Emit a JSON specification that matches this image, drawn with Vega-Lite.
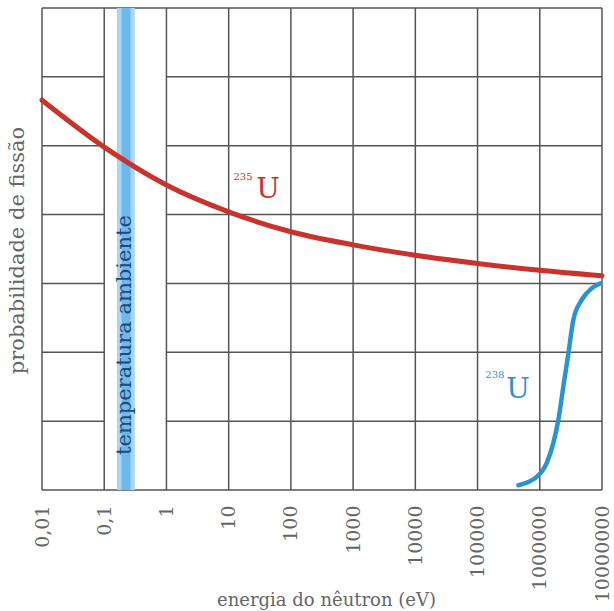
{
  "$schema": "https://vega.github.io/schema/vega-lite/v6.json",
  "width": 560,
  "height": 482,
  "autosize": {"type": "none"},
  "padding": {"left": 42, "top": 8, "right": 12, "bottom": 121},
  "background": "white",
  "config": {"view": {"stroke": null}},
  "datasets": {
    "vgrid": [
      {"energy": 0.01, "low": 0, "high": 7}, {"energy": 0.1, "low": 0, "high": 7},
      {"energy": 1, "low": 0, "high": 7}, {"energy": 10, "low": 0, "high": 7},
      {"energy": 100, "low": 0, "high": 7}, {"energy": 1000, "low": 0, "high": 7},
      {"energy": 10000, "low": 0, "high": 7}, {"energy": 100000, "low": 0, "high": 7},
      {"energy": 1000000, "low": 0, "high": 7}, {"energy": 10000000, "low": 0, "high": 7}
    ],
    "hgrid": [
      {"level": 0, "from": 0.01, "to": 10000000},
      {"level": 7, "from": 0.01, "to": 10000000},
      {"level": 1, "from": 0.01, "to": 0.1}, {"level": 1, "from": 1, "to": 10000000},
      {"level": 2, "from": 0.01, "to": 0.1}, {"level": 2, "from": 1, "to": 10000000},
      {"level": 3, "from": 0.01, "to": 0.1}, {"level": 3, "from": 1, "to": 10000000},
      {"level": 4, "from": 0.01, "to": 0.1}, {"level": 4, "from": 1, "to": 10000000},
      {"level": 5, "from": 0.01, "to": 0.1}, {"level": 5, "from": 1, "to": 10000000},
      {"level": 6, "from": 0.01, "to": 0.1}, {"level": 6, "from": 1, "to": 10000000}
    ],
    "band": [
      {"part": "outer", "from": 0.16, "to": 0.31, "low": 0, "high": 7},
      {"part": "inner", "from": 0.19, "to": 0.265, "low": 0, "high": 7}
    ],
    "u235": [
      {"energy": 0.01, "prob": 5.66},
      {"energy": 0.1, "prob": 4.98},
      {"energy": 1, "prob": 4.43},
      {"energy": 10, "prob": 4.04},
      {"energy": 100, "prob": 3.75},
      {"energy": 1000, "prob": 3.56},
      {"energy": 10000, "prob": 3.41},
      {"energy": 100000, "prob": 3.29},
      {"energy": 1000000, "prob": 3.19},
      {"energy": 10000000, "prob": 3.11}
    ],
    "u238": [
      {"energy": 452000, "prob": 0.07},
      {"energy": 893000, "prob": 0.19},
      {"energy": 1290000, "prob": 0.39},
      {"energy": 1650000, "prob": 0.68},
      {"energy": 1990000, "prob": 1.02},
      {"energy": 2390000, "prob": 1.50},
      {"energy": 2880000, "prob": 1.98},
      {"energy": 3460000, "prob": 2.47},
      {"energy": 4720000, "prob": 2.76},
      {"energy": 6840000, "prob": 2.93},
      {"energy": 9290000, "prob": 3.00}
    ],
    "labels": [
      {"kind": "iso235", "text": "235", "energy": 17, "prob": 4.54},
      {"kind": "u235", "text": "U", "energy": 43, "prob": 4.36},
      {"kind": "iso238", "text": "238", "energy": 190000, "prob": 1.67},
      {"kind": "u238", "text": "U", "energy": 447000, "prob": 1.45},
      {"kind": "room", "text": "temperatura ambiente", "energy": 0.219, "prob": 2.25}
    ]
  },
  "encoding": {
    "x": {
      "field": "energy",
      "type": "quantitative",
      "scale": {"type": "log", "domain": [0.01, 10000000], "nice": false},
      "axis": {
        "values": [0.01, 0.1, 1, 10, 100, 1000, 10000, 100000, 1000000, 10000000],
        "labelExpr": "datum.value == 0.01 ? '0,01' : datum.value == 0.1 ? '0,1' : format(datum.value, 'd')",
        "labelAngle": 270,
        "labelAlign": "right",
        "labelBaseline": "middle",
        "labelPadding": 15,
        "labelFont": "DejaVu Serif",
        "labelFontSize": 19,
        "labelColor": "#666666",
        "labelOverlap": false,
        "labelFlush": false,
        "ticks": false,
        "domain": false,
        "grid": false,
        "title": "energia do nêutron (eV)",
        "titleFont": "DejaVu Serif",
        "titleFontSize": 18,
        "titleFontWeight": "normal",
        "titleColor": "#666666",
        "titleX": 284,
        "titleY": 110,
        "titleBaseline": "middle",
        "titleAlign": "center"
      }
    },
    "y": {
      "field": "prob",
      "type": "quantitative",
      "scale": {"domain": [0, 7], "nice": false, "zero": false},
      "axis": {
        "labels": false,
        "ticks": false,
        "domain": false,
        "grid": false,
        "title": "probabilidade de fissão",
        "titleFont": "DejaVu Serif",
        "titleFontSize": 21,
        "titleFontWeight": "normal",
        "titleColor": "#666666",
        "titleAngle": 270,
        "titleX": -25,
        "titleY": 242,
        "titleAlign": "center",
        "titleBaseline": "middle"
      }
    }
  },
  "layer": [
    {
      "data": {"name": "vgrid"},
      "mark": {"type": "rule", "color": "#555555", "strokeWidth": 1.5},
      "encoding": {
        "y": {"field": "low", "type": "quantitative"},
        "y2": {"field": "high"}
      }
    },
    {
      "data": {"name": "hgrid"},
      "mark": {"type": "rule", "color": "#555555", "strokeWidth": 1.5},
      "encoding": {
        "x": {"field": "from", "type": "quantitative"},
        "x2": {"field": "to"},
        "y": {"field": "level", "type": "quantitative"}
      }
    },
    {
      "data": {"name": "band"},
      "transform": [{"filter": "datum.part == 'outer'"}],
      "mark": {"type": "rect", "color": "#a9d6f4"},
      "encoding": {
        "x": {"field": "from", "type": "quantitative"},
        "x2": {"field": "to"},
        "y": {"field": "low", "type": "quantitative"},
        "y2": {"field": "high"}
      }
    },
    {
      "data": {"name": "band"},
      "transform": [{"filter": "datum.part == 'inner'"}],
      "mark": {"type": "rect", "color": "#6eb8ea"},
      "encoding": {
        "x": {"field": "from", "type": "quantitative"},
        "x2": {"field": "to"},
        "y": {"field": "low", "type": "quantitative"},
        "y2": {"field": "high"}
      }
    },
    {
      "data": {"name": "u235"},
      "mark": {"type": "line", "color": "#c8342c", "strokeWidth": 5, "interpolate": "monotone", "strokeCap": "round"},
      "encoding": {}
    },
    {
      "data": {"name": "u238"},
      "mark": {"type": "line", "color": "#2a93d1", "strokeWidth": 4.5, "interpolate": "monotone", "strokeCap": "round"},
      "encoding": {}
    },
    {
      "data": {"name": "labels"},
      "transform": [{"filter": "datum.kind == 'iso235'"}],
      "mark": {"type": "text", "color": "#c8342c", "font": "DejaVu Serif", "fontSize": 10, "align": "center", "baseline": "middle"},
      "encoding": {"text": {"field": "text"}}
    },
    {
      "data": {"name": "labels"},
      "transform": [{"filter": "datum.kind == 'u235'"}],
      "mark": {"type": "text", "color": "#c8342c", "font": "DejaVu Serif", "fontSize": 28, "align": "center", "baseline": "middle"},
      "encoding": {"text": {"field": "text"}}
    },
    {
      "data": {"name": "labels"},
      "transform": [{"filter": "datum.kind == 'iso238'"}],
      "mark": {"type": "text", "color": "#2a93d1", "font": "DejaVu Serif", "fontSize": 10, "align": "center", "baseline": "middle"},
      "encoding": {"text": {"field": "text"}}
    },
    {
      "data": {"name": "labels"},
      "transform": [{"filter": "datum.kind == 'u238'"}],
      "mark": {"type": "text", "color": "#2a93d1", "font": "DejaVu Serif", "fontSize": 28, "align": "center", "baseline": "middle"},
      "encoding": {"text": {"field": "text"}}
    },
    {
      "data": {"name": "labels"},
      "transform": [{"filter": "datum.kind == 'room'"}],
      "mark": {"type": "text", "color": "#1d4a80", "font": "DejaVu Serif", "fontSize": 21, "angle": 270, "align": "center", "baseline": "middle"},
      "encoding": {"text": {"field": "text"}}
    }
  ]
}
